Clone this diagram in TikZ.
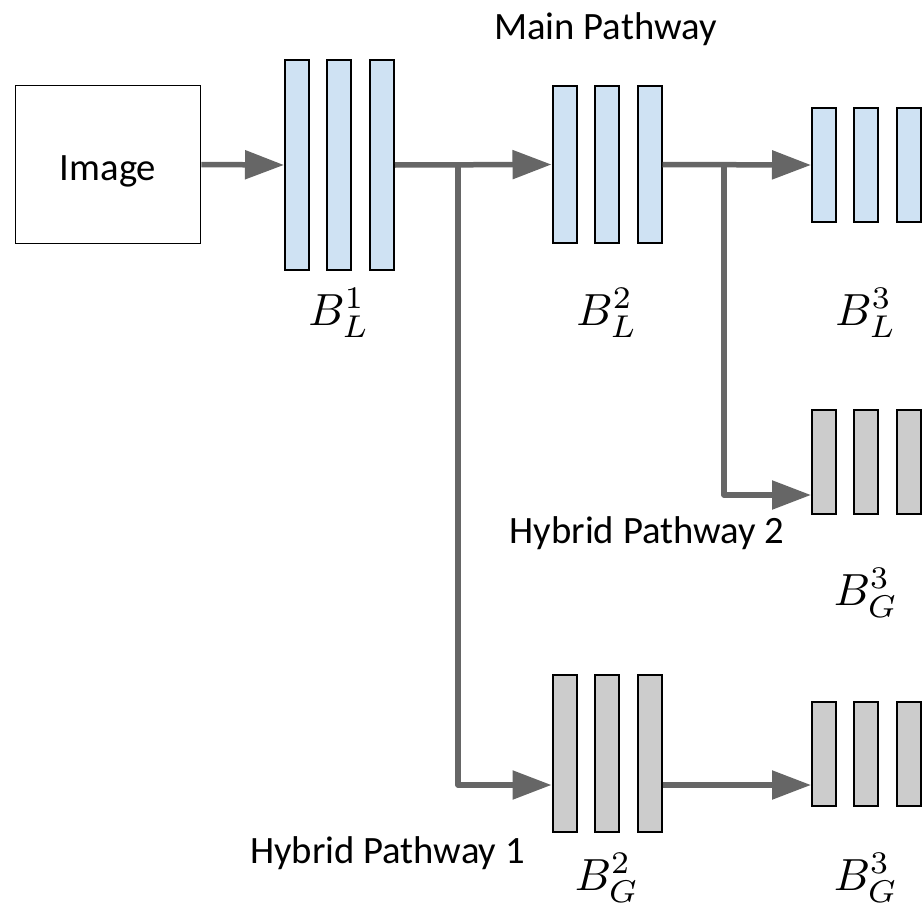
\documentclass[tikz,border=0pt]{standalone}
\usepackage{fontspec}
\setmainfont{Carlito}
\usetikzlibrary{arrows.meta}

\definecolor{barblue}{HTML}{CFE2F3}
\definecolor{bargray}{HTML}{CCCCCC}
\definecolor{linkgray}{HTML}{666666}

% block label: math set at 10pt and enlarged
\newcommand{\blocktag}[2]{\scalebox{4.5}{$B_{#1}^{#2}$}}

\tikzset{
  barL/.style={draw=black, line width=2pt, fill=barblue, minimum width=24pt, inner sep=0pt},
  barG/.style={draw=black, line width=2pt, fill=bargray, minimum width=24pt, inner sep=0pt},
  caption/.style={anchor=base, inner sep=0pt, font=\fontsize{38.7}{46}\selectfont},
  blocklabel/.style={anchor=base, inner sep=0pt},
  conn/.style={draw=linkgray, line width=5.5pt, line join=round,
    -{Triangle[length=39pt, width=28pt]}}
}

\begin{document}
\begin{tikzpicture}[x=1pt, y=-1pt]
  \useasboundingbox (0,0) rectangle (924,907);

  % input image
  \node[draw=black, line width=1.8pt, minimum width=185pt, minimum height=158pt, inner sep=0pt] (img) at (108,164.5) {};
  \node[caption] (imgtext) at (108,180) {Image};

  % first local block
  \foreach \n/\x in {a/297, b/339, c/382}
    \node[barL, minimum height=210pt] (L1\n) at (\x,165) {};
  % second local block
  \foreach \n/\x in {a/564.5, b/607, c/649.5}
    \node[barL, minimum height=157pt] (L2\n) at (\x,164.5) {};
  % third local block
  \foreach \n/\x in {a/824, b/866, c/909}
    \node[barL, minimum height=114pt] (L3\n) at (\x,165) {};
  % third global block, hybrid pathway 2
  \foreach \n/\x in {a/824, b/866, c/909}
    \node[barG, minimum height=104pt] (H3\n) at (\x,462) {};
  % second global block, hybrid pathway 1
  \foreach \n/\x in {a/564.5, b/607, c/649.5}
    \node[barG, minimum height=157pt] (G2\n) at (\x,753.5) {};
  % third global block, hybrid pathway 1
  \foreach \n/\x in {a/824, b/866, c/909}
    \node[barG, minimum height=104pt] (G3\n) at (\x,754) {};

  % block labels
  \node[blocklabel] (labL1) at (339,325) {\blocktag{L}{1}};
  \node[blocklabel] (labL2) at (607,325) {\blocktag{L}{2}};
  \node[blocklabel] (labL3) at (866,325) {\blocktag{L}{3}};
  \node[blocklabel] (labH3) at (866,605) {\blocktag{G}{3}};
  \node[blocklabel] (labG2) at (607,890) {\blocktag{G}{2}};
  \node[blocklabel] (labG3) at (866,890) {\blocktag{G}{3}};

  % pathway captions
  \node[caption] (mainpath) at (605.5,40) {Main Pathway};
  \node[caption] (hyb2) at (647,543) {Hybrid Pathway 2};
  \node[caption] (hyb1) at (387.5,863) {Hybrid Pathway 1};

  % branch points and branch heights
  \coordinate (j1) at (458,165);
  \coordinate (j2) at (724,165);
  \coordinate (in1) at (0,785);
  \coordinate (in2) at (0,495);

  % main pathway
  \draw[conn] (img.east) -- (L1a.west);
  \draw[conn] (L1c.east) -- (L2a.west);
  \draw[conn] (L2c.east) -- (L3a.west);

  % hybrid pathway 2
  \draw[conn] (j2) |- (H3a.west |- in2);

  % hybrid pathway 1
  \draw[conn] (j1) |- (G2a.west |- in1);
  \draw[conn] (G2c.east |- in1) -- (G3a.west |- in1);
\end{tikzpicture}
\end{document}
